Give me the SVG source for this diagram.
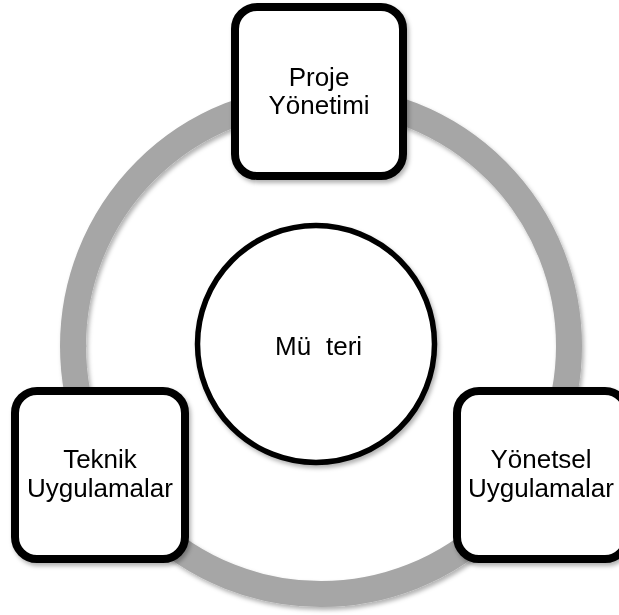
<svg xmlns="http://www.w3.org/2000/svg" width="619" height="615" viewBox="0 0 619 615">
  <style>
    .box { fill: #ffffff; stroke: #000000; stroke-width: 8; }
    .hub { fill: #ffffff; stroke: #000000; stroke-width: 5.5; }
    .label { font-family: "Liberation Sans", Arial, sans-serif; font-size: 26px; fill: #000000; }
    .mid { text-anchor: middle; }
  </style>
  <defs>
    <filter id="shadow" x="-10%" y="-10%" width="125%" height="125%">
      <feDropShadow dx="2" dy="3" stdDeviation="2" flood-color="#000000" flood-opacity="0.3"/>
    </filter>
  </defs>
  <rect width="619" height="615" fill="#ffffff"/>

  <!-- connecting ring -->
  <g id="connectors">
    <circle cx="321" cy="346" r="248" fill="none" stroke="#a6a6a6" stroke-width="26" filter="url(#shadow)"/>
  </g>

  <g id="node-musteri" filter="url(#shadow)">
    <circle class="hub" cx="316" cy="344" r="118.5"/>
    <text class="label" x="275" y="355">Mü <tspan x="326">teri</tspan></text>
  </g>

  <g id="node-proje" filter="url(#shadow)">
    <rect class="box" x="235" y="7" width="168" height="169" rx="22"/>
    <text class="label mid" x="319" y="86">Proje</text>
    <text class="label mid" x="319" y="114">Yönetimi</text>
  </g>

  <g id="node-teknik" filter="url(#shadow)">
    <rect class="box" x="15" y="391" width="170" height="168" rx="22"/>
    <text class="label mid" x="100" y="468">Teknik</text>
    <text class="label mid" x="100" y="497">Uygulamalar</text>
  </g>

  <g id="node-yonetsel" filter="url(#shadow)">
    <rect class="box" x="457" y="391" width="170" height="168" rx="22"/>
    <text class="label mid" x="541" y="468">Yönetsel</text>
    <text class="label mid" x="541" y="497">Uygulamalar</text>
  </g>
</svg>
